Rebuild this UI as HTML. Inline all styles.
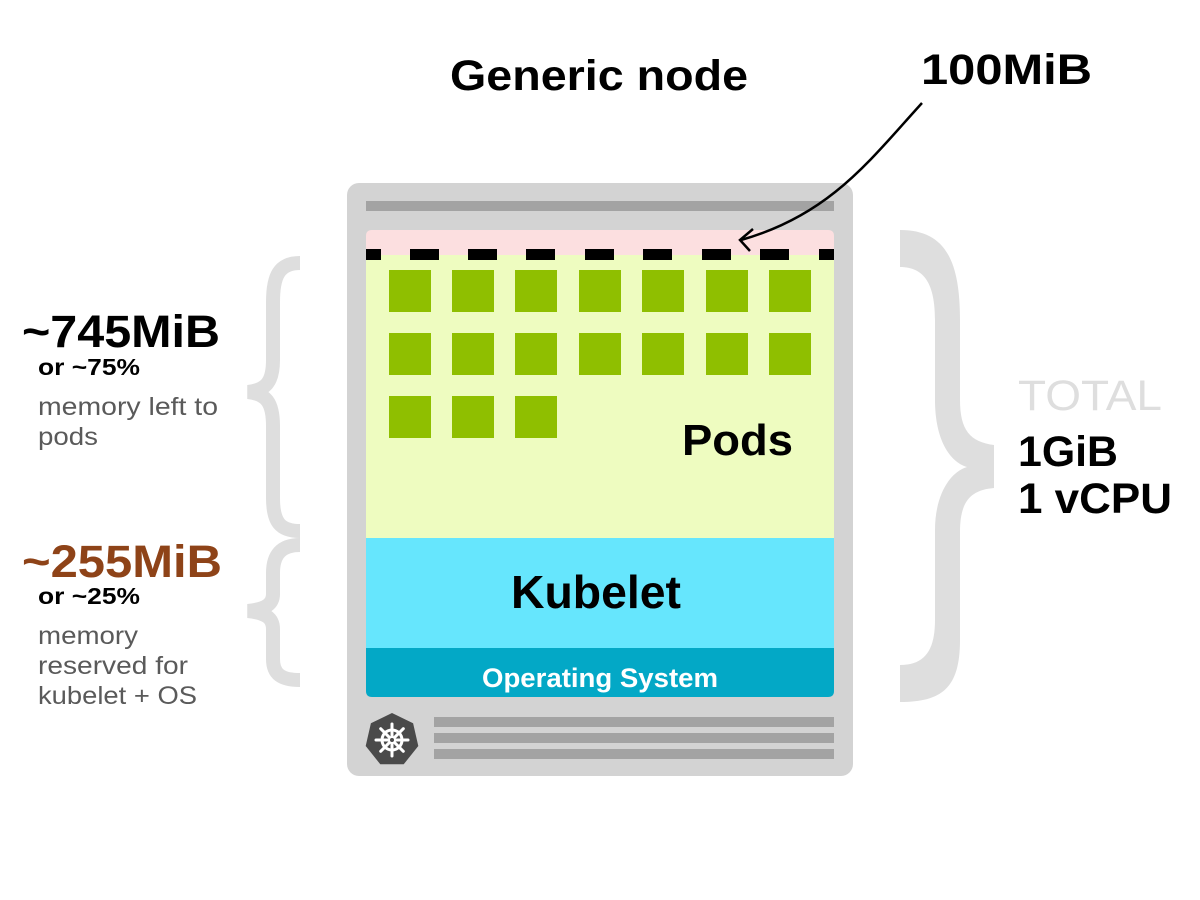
<!DOCTYPE html>
<html><head><meta charset="utf-8"><style>
html,body{margin:0;padding:0;background:#fff;}
svg{display:block;}
text{font-family:"Liberation Sans",sans-serif;}
</style></head><body>
<svg width="1200" height="900" viewBox="0 0 1200 900" xmlns="http://www.w3.org/2000/svg">
<rect width="1200" height="900" fill="#fff"/>
<text x="450" y="90" font-size="43" font-weight="bold" textLength="298" lengthAdjust="spacingAndGlyphs">Generic node</text>
<text x="921" y="84" font-size="43" font-weight="bold" textLength="171" lengthAdjust="spacingAndGlyphs">100MiB</text>

<rect x="347" y="183" width="506" height="593" rx="12" fill="#d3d3d3"/>
<rect x="366" y="201" width="468" height="10" fill="#a3a3a3"/>
<path d="M366,255 L366,236 Q366,230 372,230 L828,230 Q834,230 834,236 L834,255 Z" fill="#fcdfe0"/>
<rect x="366" y="255" width="468" height="283" fill="#eefcc0"/>
<rect x="366" y="538" width="468" height="110" fill="#66e6fd"/>
<path d="M366,648 L834,648 L834,691 Q834,697 828,697 L372,697 Q366,697 366,691 Z" fill="#03a8c6"/>
<g fill="#000">
<rect x="366" y="249" width="15" height="11"/>
<rect x="410" y="249" width="29" height="11"/>
<rect x="468" y="249" width="29" height="11"/>
<rect x="526" y="249" width="29" height="11"/>
<rect x="585" y="249" width="29" height="11"/>
<rect x="643" y="249" width="29" height="11"/>
<rect x="702" y="249" width="29" height="11"/>
<rect x="760" y="249" width="29" height="11"/>
<rect x="819" y="249" width="15" height="11"/>
</g>
<g fill="#8fbf00">
<rect x="389" y="270" width="42" height="42"/><rect x="452" y="270" width="42" height="42"/><rect x="515" y="270" width="42" height="42"/><rect x="579" y="270" width="42" height="42"/><rect x="642" y="270" width="42" height="42"/><rect x="706" y="270" width="42" height="42"/><rect x="769" y="270" width="42" height="42"/>
<rect x="389" y="333" width="42" height="42"/><rect x="452" y="333" width="42" height="42"/><rect x="515" y="333" width="42" height="42"/><rect x="579" y="333" width="42" height="42"/><rect x="642" y="333" width="42" height="42"/><rect x="706" y="333" width="42" height="42"/><rect x="769" y="333" width="42" height="42"/>
<rect x="389" y="396" width="42" height="42"/><rect x="452" y="396" width="42" height="42"/><rect x="515" y="396" width="42" height="42"/>
</g>
<text x="682" y="455" font-size="44" font-weight="bold" textLength="111" lengthAdjust="spacingAndGlyphs">Pods</text>
<text x="511" y="608" font-size="46" font-weight="bold" textLength="170" lengthAdjust="spacingAndGlyphs">Kubelet</text>
<text x="482" y="687" font-size="27" font-weight="bold" fill="#fff" textLength="236" lengthAdjust="spacingAndGlyphs">Operating System</text>
<rect x="434" y="717" width="400" height="10" fill="#a3a3a3"/>
<rect x="434" y="733" width="400" height="10" fill="#a3a3a3"/>
<rect x="434" y="749" width="400" height="10" fill="#a3a3a3"/>
<polygon points="392,713 413.1,723.2 418.3,746 403.7,764.3 380.3,764.3 365.7,746 370.9,723.2" fill="#4a4a4a"/>
<g stroke="#fff" stroke-width="3" fill="none" stroke-linecap="round">
<circle cx="392" cy="740" r="10"/>
<line x1="392" y1="724" x2="392" y2="756"/>
<line x1="376" y1="740" x2="408" y2="740"/>
<line x1="380.7" y1="728.7" x2="403.3" y2="751.3"/>
<line x1="403.3" y1="728.7" x2="380.7" y2="751.3"/>
</g>
<circle cx="392" cy="740" r="2" fill="#4a4a4a"/>
<path d="M922,103 C870,160 830,215 741,240" stroke="#000" stroke-width="2.5" fill="none"/>
<path d="M753,229 L740,240 L750,251" stroke="#000" stroke-width="2.5" fill="none"/>
<g stroke="#dedede" stroke-width="14" fill="none">
<path d="M300,263 C279,263 273,276 273,302 L273,360 C273,382 266,390 248,392 C266,394 273,402 273,426 L273,498 C273,522 280,531 300,531"/>
<path d="M300,545 C281,545 273,555 273,573 L273,594 C273,604 266,609 248,611 C266,613 273,618 273,629 L273,659 C273,674 281,680 300,680"/>
</g>
<path d="M900,230 C945,230 960,260 960,320 L960,400 C960,430 970,442 994,445 L994,488 C970,490 960,502 960,532 L960,640 C960,688 942,702 900,702 L900,665 C925,665 935,650 935,620 L935,530 C935,495 950,472 967,467 C950,462 935,440 935,400 L935,320 C935,285 925,267 900,267 Z" fill="#dedede"/>
<text x="1018" y="410" font-size="43" fill="#dedede" textLength="144" lengthAdjust="spacingAndGlyphs">TOTAL</text>
<text x="1018" y="466" font-size="43" font-weight="bold" textLength="100" lengthAdjust="spacingAndGlyphs">1GiB</text>
<text x="1018" y="513" font-size="43" font-weight="bold" textLength="154" lengthAdjust="spacingAndGlyphs">1 vCPU</text>
<text x="22" y="347" font-size="45" font-weight="bold" textLength="198" lengthAdjust="spacingAndGlyphs">~745MiB</text>
<text x="38" y="375" font-size="23" font-weight="bold" textLength="102" lengthAdjust="spacingAndGlyphs">or ~75%</text>
<text x="38" y="415" font-size="25" fill="#5a5a5a" textLength="180" lengthAdjust="spacingAndGlyphs">memory left to</text>
<text x="38" y="445" font-size="25" fill="#5a5a5a" textLength="60" lengthAdjust="spacingAndGlyphs">pods</text>
<text x="22" y="577" font-size="45" font-weight="bold" fill="#8e4318" textLength="200" lengthAdjust="spacingAndGlyphs">~255MiB</text>
<text x="38" y="604" font-size="23" font-weight="bold" textLength="102" lengthAdjust="spacingAndGlyphs">or ~25%</text>
<text x="38" y="644" font-size="25" fill="#5a5a5a" textLength="100" lengthAdjust="spacingAndGlyphs">memory</text>
<text x="38" y="674" font-size="25" fill="#5a5a5a" textLength="150" lengthAdjust="spacingAndGlyphs">reserved for</text>
<text x="38" y="704" font-size="25" fill="#5a5a5a" textLength="159" lengthAdjust="spacingAndGlyphs">kubelet + OS</text>
</svg>
</body></html>
